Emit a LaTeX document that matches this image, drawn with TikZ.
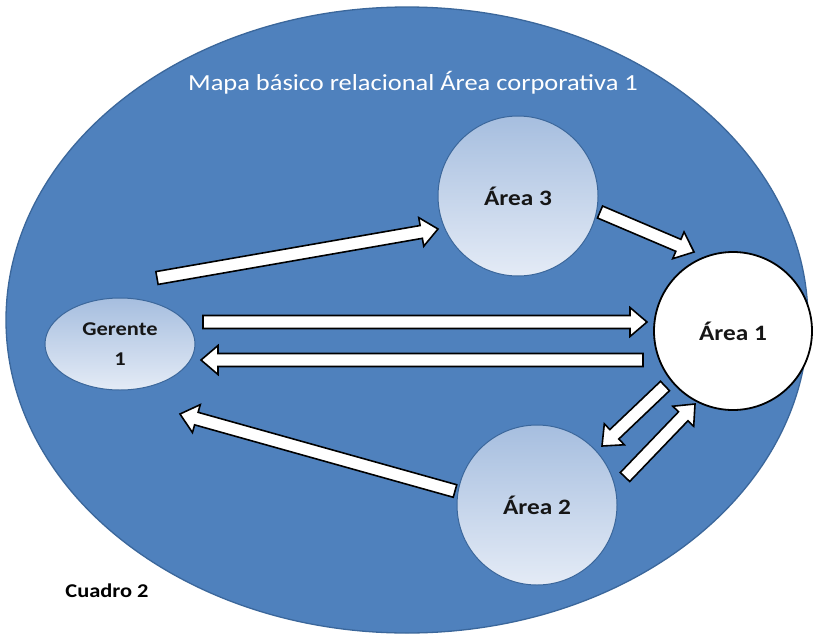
\documentclass[tikz,border=0pt]{standalone}
\usepackage{fontspec}
\setmainfont{Carlito}
\usepackage{graphicx}
\usetikzlibrary{calc,shapes.geometric}
\definecolor{mapblue}{HTML}{4F81BD}
\definecolor{mapedge}{HTML}{3B679B}
\definecolor{circtop}{HTML}{A6BEDF}
\definecolor{circbot}{HTML}{E4EBF6}
\definecolor{txtdark}{HTML}{161616}
\tikzset{
  bigmap/.style={ellipse, fill=mapblue, draw=mapedge, line width=1.3pt, minimum width=802pt, minimum height=626pt, inner sep=0pt},
  areacirc/.style={circle, minimum size=160pt, inner sep=0pt, draw=mapedge, line width=1pt, top color=circtop, bottom color=circbot, text=txtdark, font=\fontsize{22}{26}\selectfont\bfseries},
  whitecirc/.style={circle, minimum size=158pt, inner sep=0pt, draw=black, line width=1.8pt, fill=white, text=txtdark, font=\fontsize{22}{26}\selectfont\bfseries},
  gerell/.style={ellipse, minimum width=150pt, minimum height=92pt, inner sep=0pt, draw=mapedge, line width=1pt, top color=circtop, bottom color=circbot, text=txtdark, font=\fontsize{19.5}{30}\selectfont\bfseries},
  blockarrow/.style={fill=white, draw=black, line width=1.6pt, line join=miter},
}
\newcommand\barw[2]{%
  \coordinate (hb) at ($(#2)!17pt!(#1)$);
  \draw[blockarrow] ($(#1)!6.5pt!90:(#2)$) -- ($(hb)!6.5pt!-90:(#1)$) -- ($(hb)!14.5pt!-90:(#1)$) -- (#2)
    -- ($(hb)!14.5pt!90:(#1)$) -- ($(hb)!6.5pt!90:(#1)$) -- ($(#1)!6.5pt!-90:(#2)$) -- cycle;}
\begin{document}
\begin{tikzpicture}[x=1pt,y=-1pt]
\useasboundingbox (0,0) rectangle (814,635);
\fill[white] (0,0) rectangle (814,635);
\node[bigmap] (map) at (407,320) {};
\node[text=white, font=\fontsize{23}{27}\selectfont] (title) at (413,83) {\scalebox{1.15}[1]{Mapa básico relacional Área corporativa 1}};
\node[font=\fontsize{19.5}{23}\selectfont\bfseries, text=black] (cuadro) at (107,591) {\scalebox{1.15}[1]{Cuadro 2}};
\node[gerell] (g) at (120,344) {\scalebox{1.15}[1]{\begin{tabular}{@{}c@{}}Gerente\\1\end{tabular}}};
\node[areacirc] (a3) at (518,196) {\scalebox{1.15}[1]{Área 3}};
\node[whitecirc] (a1) at (733,331) {\scalebox{1.15}[1]{Área 1}};
\node[areacirc] (a2) at (537,505) {\scalebox{1.15}[1]{Área 2}};
% arrow end points
\coordinate (g3s) at (157,278); \coordinate (g3e) at (438,229);
\coordinate (g1s) at (203,322); \coordinate (g1e) at (647,322);
\coordinate (a1gs) at (643,360); \coordinate (a1ge) at (201,360);
\coordinate (a31s) at (600,212); \coordinate (a31e) at (694,252);
\coordinate (a12s) at (665,386); \coordinate (a12e) at (602,446);
\coordinate (a21s) at (625,477); \coordinate (a21e) at (695,404);
\coordinate (a2gs) at (455,491); \coordinate (a2ge) at (180,414);
\barw{g3s}{g3e}
\barw{g1s}{g1e}
\barw{a1gs}{a1ge}
\barw{a31s}{a31e}
\barw{a12s}{a12e}
\barw{a21s}{a21e}
\barw{a2gs}{a2ge}
\end{tikzpicture}
\end{document}
